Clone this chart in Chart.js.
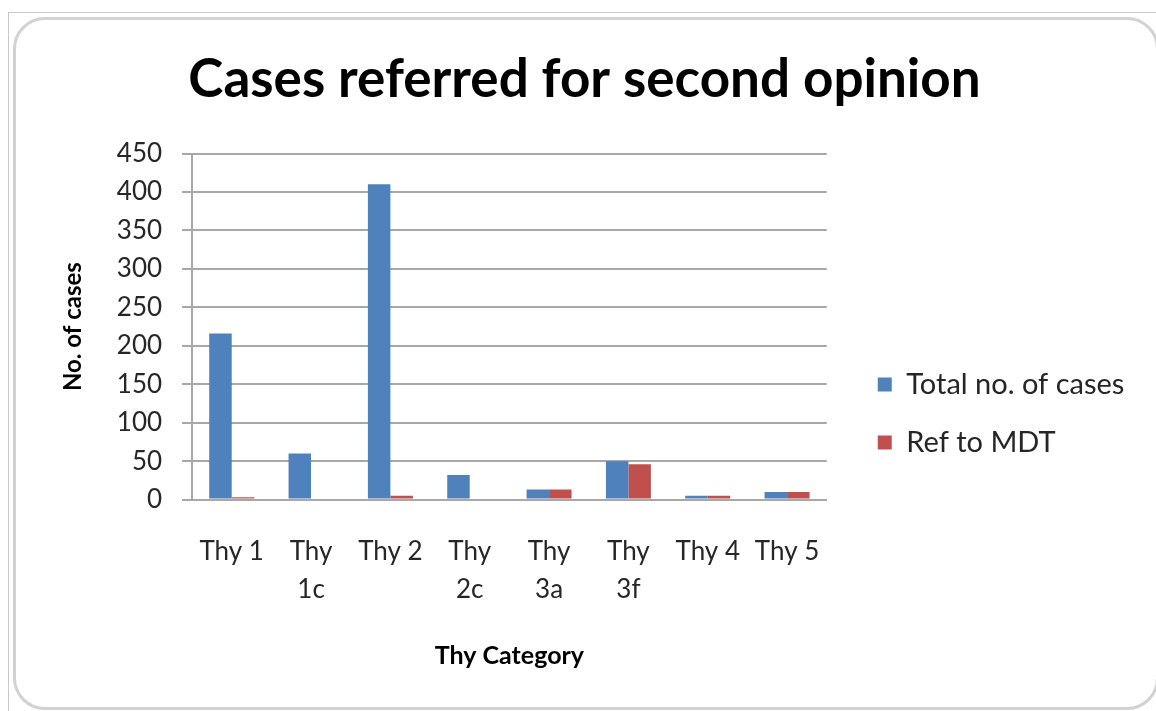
<!DOCTYPE html>
<html>
<head>
<meta charset="utf-8">
<script src="https://cdn.jsdelivr.net/npm/chart.js@4"></script>
<style>
  html, body { margin: 0; padding: 0; background: #ffffff; }
  body { width: 1156px; height: 711px; position: relative; overflow: hidden; }
  #outer { position: absolute; left: 8px; top: 12px; width: 1160px; height: 710px;
           border-top: 1px solid #c8c8c8; border-left: 1px solid #c8c8c8; }
  #frame { position: absolute; left: 13px; top: 17px; width: 1140px; height: 687px;
           border: 3px solid #d2d2d2; border-radius: 32px; }
  #wrap { position: absolute; left: 0; top: 0; width: 1156px; height: 711px; }
</style>
</head>
<body>
<div id="outer"></div>
<div id="frame"></div>
<div id="wrap"><canvas id="c" width="1156" height="711"></canvas></div>
<script>
const categories = [["Thy 1"], ["Thy", "1c"], ["Thy 2"], ["Thy", "2c"], ["Thy", "3a"], ["Thy", "3f"], ["Thy 4"], ["Thy 5"]];
const totalCases = [216, 60, 410, 32, 13, 50, 5, 10];
const refToMDT = [3, 0, 5, 0, 13, 46, 5, 10];
const seriesNames = ["Total no. of cases", "Ref to MDT"];
const yTicks = { min: 0, max: 450, step: 50 };

const FONT = "Lato, 'Open Sans', sans-serif";
const TXT = '#262626';

// nudges the legend and title blocks to where the original places them
const blockNudge = {
  id: 'blockNudge',
  afterLayout(chart) {
    const l = chart.legend;
    if (l) {
      l.left += 22; l.right += 100; l.width = l.right - l.left;
      l.top += 75; l.bottom += 75;
    }
    const t = chart.titleBlock;
    if (t) { t.left += 15; t.right += 15; }
  }
};

new Chart(document.getElementById('c'), {
  type: 'bar',
  data: {
    labels: categories,
    datasets: [
      { label: seriesNames[0], data: totalCases, backgroundColor: '#4f81bd', borderWidth: 0 },
      { label: seriesNames[1], data: refToMDT, backgroundColor: '#c0504d', borderWidth: 0 }
    ]
  },
  plugins: [blockNudge],
  options: {
    responsive: false,
    animation: false,
    devicePixelRatio: 1,
    layout: { padding: { left: 55, right: 72, top: 0, bottom: 34 } },
    datasets: { bar: { categoryPercentage: 0.567, barPercentage: 1.0 } },
    plugins: {
      title: {
        display: true,
        text: 'Cases referred for second opinion',
        color: '#000000',
        font: { family: FONT, size: 53, weight: 'bold', lineHeight: 1.2 },
        padding: { top: 48, bottom: 42 }
      },
      legend: {
        position: 'right',
        labels: {
          color: TXT,
          font: { family: FONT, size: 29 },
          boxWidth: 14, boxHeight: 14,
          padding: 29
        }
      },
      tooltip: { enabled: false }
    },
    scales: {
      x: {
        grid: { display: false, drawTicks: false },
        border: { display: true, color: '#a8a8a8', width: 2 },
        ticks: { color: TXT, font: { family: FONT, size: 26, lineHeight: 1.45 }, padding: 33, maxRotation: 0, autoSkip: false },
        title: { display: true, text: 'Thy Category', color: '#000000', font: { family: FONT, size: 25, weight: 'bold' }, padding: { top: 0, bottom: 6 } }
      },
      y: {
        min: yTicks.min, max: yTicks.max,
        grid: { color: '#a8a8a8', lineWidth: 2, tickLength: 10 },
        border: { display: true, color: '#a8a8a8', width: 2 },
        ticks: { stepSize: yTicks.step, color: TXT, font: { family: FONT, size: 26 }, padding: 20 },
        title: { display: true, text: 'No. of cases', color: '#000000', font: { family: FONT, size: 24, weight: 'bold' }, padding: { top: 4, bottom: 9 } }
      }
    }
  }
});
</script>
</body>
</html>
